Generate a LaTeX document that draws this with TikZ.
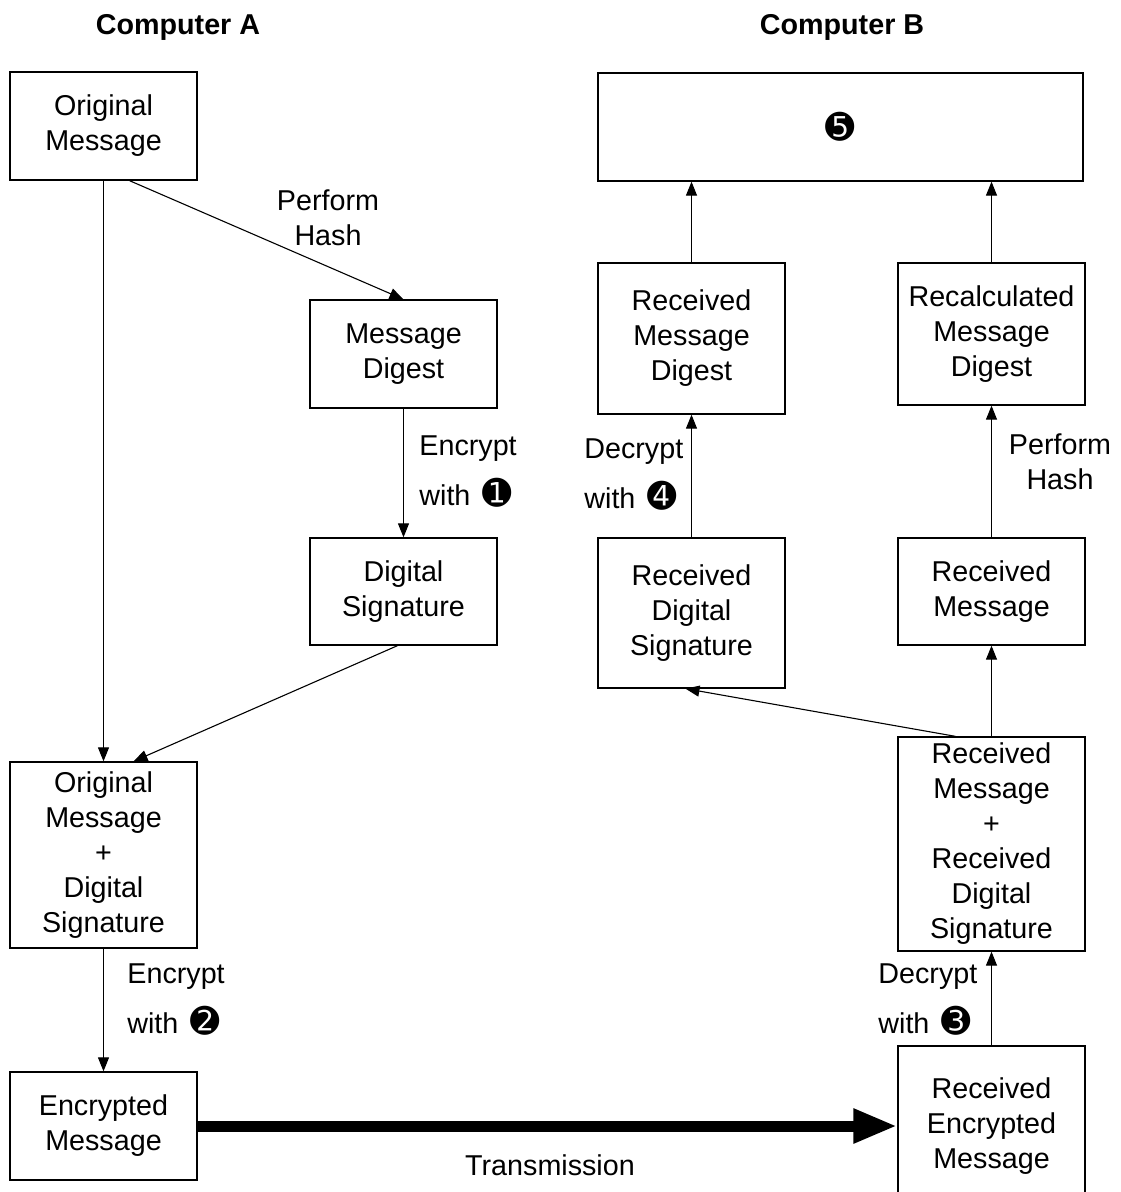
\documentclass[tikz,border=0pt]{standalone}
\usepackage{fontspec}
\setmainfont{Liberation Sans}
\newfontfamily\symfont{DejaVu Sans}
\newcommand{\cnum}[1]{{\symfont\fontsize{17.5pt}{17.5pt}\selectfont #1}}
\usepackage{tikz}
\usetikzlibrary{arrows.meta}
\tikzset{
  mbox/.style ={rectangle, draw=black, line width=0.65pt, fill=white, align=center, inner sep=2pt,
                minimum width=93.5pt, minimum height=54pt, font=\fontsize{14.35pt}{17.5pt}\selectfont},
  marr/.style ={-{Triangle[length=7pt, width=5.5pt]}, line width=0.55pt, color=black},
  bigarr/.style={-{Triangle[length=22pt, width=16pt]}, line width=5.5pt, color=black},
  mlbl/.style ={align=center, inner sep=0pt, font=\fontsize{14.35pt}{17.5pt}\selectfont},
  wlbl/.style ={align=left, anchor=west, inner sep=0pt, font=\fontsize{14.35pt}{25pt}\selectfont},
  mhead/.style={inner sep=0pt, font=\fontsize{14.35pt}{17.5pt}\selectfont\bfseries},
}

\begin{document}
\begin{tikzpicture}[x=0.5pt, y=-0.5pt]
  \useasboundingbox (0,0) rectangle (1120,1192);
  % headings
  \node[mhead] (ha) at (178,27) {Computer A};
  \node[mhead] (hb) at (842,27) {Computer B};
  % computer A
  \node[mbox] (om) at (103.5,126) {Original\\Message};
  \node[mbox] (md) at (403.5,354) {Message\\Digest};
  \node[mbox, minimum height=53.5pt] (ds) at (403.5,591.5) {Digital\\Signature};
  \node[mbox, minimum height=93pt] (omds) at (103.5,855) {Original\\Message\\+\\Digital\\Signature};
  \node[mbox] (enc) at (103.5,1126) {Encrypted\\Message};
  % computer B
  \node[mbox, minimum width=242.5pt] (b5) at (840.5,127) {\cnum{➎}};
  \node[mbox, minimum height=75.5pt] (rmd) at (691.5,338.5) {Received\\Message\\Digest};
  \node[mbox, minimum height=71pt] (rcmd) at (991.5,334) {Recalculated\\Message\\Digest};
  \node[mbox, minimum height=75pt] (rds) at (691.5,613) {Received\\Digital\\Signature};
  \node[mbox, minimum height=53.5pt] (rm) at (991.5,591.5) {Received\\Message};
  \node[mbox, minimum height=107pt] (rmrds) at (991.5,844) {Received\\Message\\+\\Received\\Digital\\Signature};
  \node[mbox, minimum height=80pt] (renc) at (991.5,1126) {Received\\Encrypted\\Message};
  % labels
  \node[mlbl] (l1) at (328,217.5) {Perform\\Hash};
  \node[wlbl] (l2) at (419,472) {Encrypt\\with\hspace{6pt}\cnum{➊}};
  \node[wlbl] (l3) at (127,1000) {Encrypt\\with\hspace{6pt}\cnum{➋}};
  \node[wlbl] (l4) at (878,1000) {Decrypt\\with\hspace{6pt}\cnum{➌}};
  \node[wlbl] (l5) at (584,475) {Decrypt\\with\hspace{6pt}\cnum{➍}};
  \node[mlbl] (l6) at (1060,462) {Perform\\Hash};
  \node[mlbl] (l7) at (550,1165) {Transmission};
  % connectors
  \draw[marr] (om) -- (omds);
  \draw[marr] ([xshift=13pt]om.south) -- (md.north);
  \draw[marr] (md) -- (ds);
  \draw[marr] ([xshift=-3pt]ds.south) -- ([xshift=15pt]omds.north);
  \draw[marr] (omds) -- (enc);
  \draw[bigarr] (enc) -- (renc);
  \draw[marr] (renc) -- (rmrds);
  \draw[marr] (rmrds) -- (rm);
  \draw[marr] ([xshift=-18pt]rmrds.north) -- ([xshift=-3pt]rds.south);
  \draw[marr] (rds) -- (rmd);
  \draw[marr] (rm) -- (rcmd);
  \draw[marr] (rmd.north) -- (rmd.north |- b5.south);
  \draw[marr] (rcmd.north) -- (rcmd.north |- b5.south);
\end{tikzpicture}
\end{document}
